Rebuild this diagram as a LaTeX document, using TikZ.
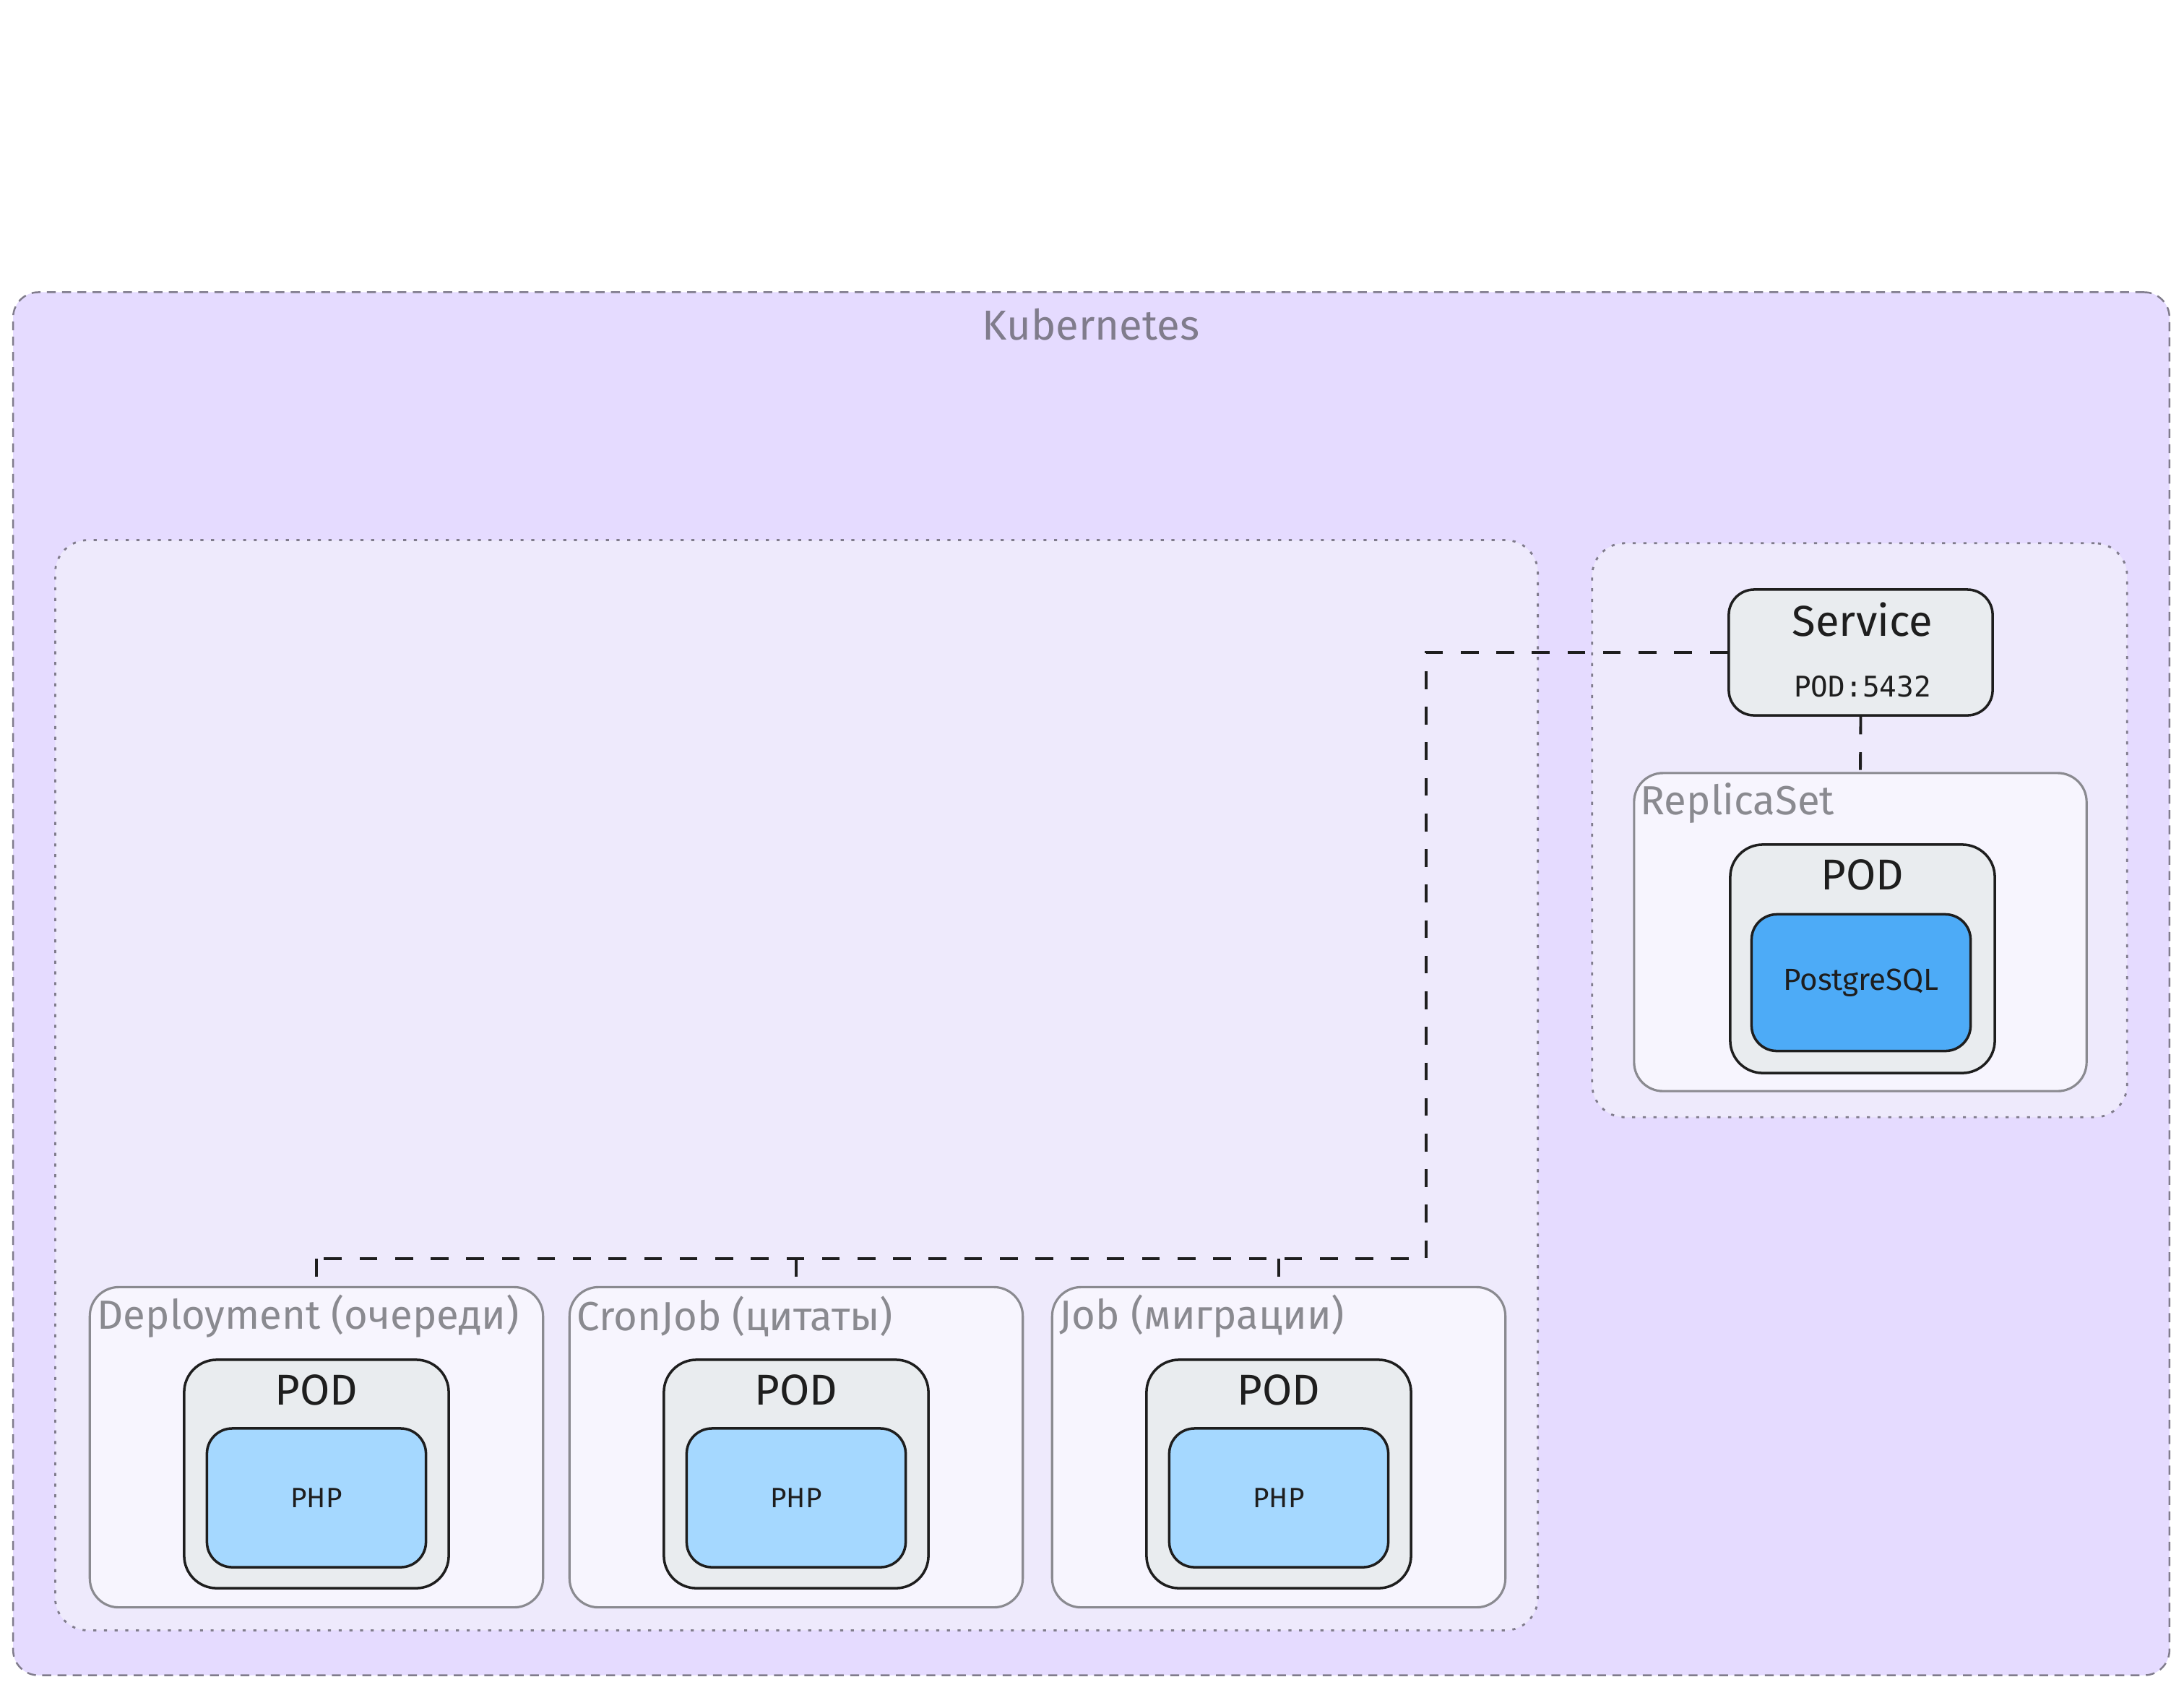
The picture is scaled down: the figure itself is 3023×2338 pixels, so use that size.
\documentclass[tikz,border=0pt]{standalone}
\usepackage{fontspec}
\setmainfont{Fira Sans}
\setmonofont{DejaVu Sans Mono}
\usetikzlibrary{positioning}
\definecolor{K8sFill}{RGB}{229,219,255}
\definecolor{GroupFill}{RGB}{238,234,252}
\definecolor{SetFill}{RGB}{247,245,254}
\definecolor{PodFill}{RGB}{233,236,239}
\definecolor{PhpBlue}{RGB}{165,216,255}
\definecolor{PgBlue}{RGB}{77,171,247}
\definecolor{FrameGray}{RGB}{128,124,140}
\definecolor{SetGray}{RGB}{138,138,144}
\definecolor{Ink}{RGB}{30,30,30}

\begin{document}
\begin{tikzpicture}[x=0.01cm, y=-0.01cm,
 cluster/.style={draw=FrameGray, fill=K8sFill, dash pattern=on 3.5pt off 2.5pt, line width=0.7pt, rounded corners=0.35cm},
 area/.style={draw=FrameGray, fill=GroupFill, dash pattern=on 1.2pt off 3pt, line width=0.8pt, rounded corners=0.45cm},
 ctrl/.style={draw=SetGray, fill=SetFill, line width=0.9pt, rounded corners=0.4cm, minimum width=6.27cm, minimum height=4.43cm},
 pod/.style={draw=Ink, fill=PodFill, line width=1pt, rounded corners=0.45cm, minimum width=3.66cm, minimum height=3.16cm},
 app/.style={draw=Ink, text=Ink, line width=1pt, rounded corners=0.35cm, minimum width=3.03cm, minimum height=1.92cm, font=\fontsize{11}{13}\selectfont},
 grouplbl/.style={text=SetGray, font=\fontsize{16}{19}\selectfont, inner sep=0pt},
 podlbl/.style={text=Ink, font=\fontsize{17}{20}\selectfont},
 link/.style={draw=Ink, line width=1.1pt, dash pattern=on 7pt off 7pt},
]
\useasboundingbox (0,0) rectangle (3023,2338);
\fill[white] (0,0) rectangle (3023,2338);

% cluster
\node[cluster, minimum width=29.83cm, minimum height=19.13cm] (k8s) at (1510.5,1361.5) {};
\node[text=FrameGray, font=\fontsize{16.5}{20}\selectfont] (k8slbl) at (1510,449) {Kubernetes};

% application side
\node[area, minimum width=20.51cm, minimum height=15.08cm] (apparea) at (1102.5,1502) {};
\foreach \name/\x/\txt in {dep/438/{Deployment (очереди)}, cron/1102/{CronJob (цитаты)}, job/1770/{Job (миграции)}} {
  \node[ctrl] (\name) at (\x,2003) {};
  \node[grouplbl, anchor=west] (\name-lbl) at ({\x-304},1822) {\txt};
  \node[pod] (\name-pod) at (\x,2040) {};
  \node[podlbl] (\name-podlbl) at (\x,1924) {POD};
  \node[app, fill=PhpBlue] (\name-php) at (\x,2073) {PHP};
}

% database side
\node[area, minimum width=7.40cm, minimum height=7.94cm] (dbarea) at (2574,1149) {};
\node[draw=Ink, fill=PodFill, line width=1pt, rounded corners=0.35cm, minimum width=3.65cm, minimum height=1.74cm] (svc) at (2575.5,903) {};
\node[podlbl] (svclbl) at (2578,858) {Service};
\node[text=Ink, font=\ttfamily\fontsize{11.2}{14}\selectfont] (svcport) at (2578,950) {POD:5432};
\node[ctrl, minimum width=6.26cm, minimum height=4.40cm] (rs) at (2575,1290) {};
\node[grouplbl, anchor=west] (rslbl) at (2270,1112) {ReplicaSet};
\node[pod] (dbpod) at (2578,1327) {};
\node[podlbl] (dbpodlbl) at (2578,1211) {POD};
\node[app, fill=PgBlue, minimum height=1.89cm, font=\fontsize{12}{14}\selectfont] (pg) at (2576,1360) {PostgreSQL};

% links
\coordinate (bend) at (1974,1742);
\draw[link] (svc.west) -| (bend) -- (bend -| dep.north);
\foreach \name in {dep,cron,job} {\draw[link] (bend -| \name.north) -- (\name.north);}
\draw[link] (svc.south) -- (rs.north);
\end{tikzpicture}
\end{document}
